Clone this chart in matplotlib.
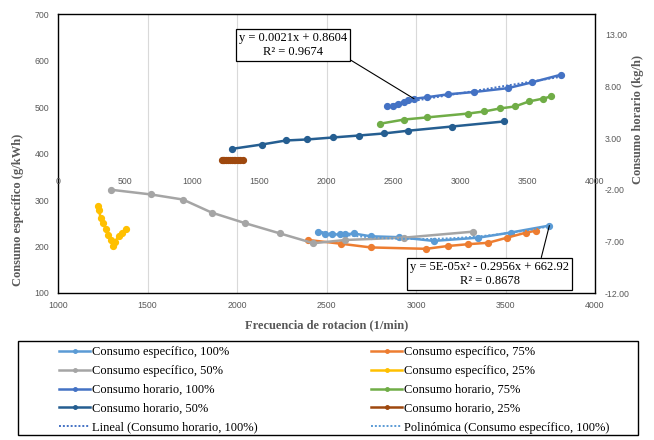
import numpy as np
import matplotlib
matplotlib.use("Agg")
import matplotlib.pyplot as plt
from matplotlib.patches import Rectangle
from matplotlib.ticker import MultipleLocator, FormatStrFormatter

plt.rcParams['axes.unicode_minus'] = False

# ---------------- data ----------------
rpm_100 = [2451, 2492, 2530, 2575, 2605, 2652, 2746, 2907, 3098, 3349, 3529, 3745]
esp_100 = [232, 227, 226, 226, 226, 228, 222, 220, 212, 219, 230, 245]
hor_100 = [6.05, 6.05, 6.27, 6.51, 6.63, 6.80, 6.94, 7.23, 7.45, 7.82, 8.38, 9.12]

rpm_75 = [2398, 2580, 2747, 3057, 3176, 3292, 3403, 3509, 3616, 3671]
esp_75 = [214, 206, 198, 195, 201, 205, 208, 219, 230, 234]
hor_75 = [4.38, 4.79, 4.99, 5.37, 5.57, 5.86, 6.05, 6.54, 6.82, 7.02]

rpm_50 = [1297, 1518, 1698, 1858, 2047, 2241, 2427, 2604, 2933, 3321]
esp_50 = [322, 312, 301, 273, 250, 228, 207, 214, 219, 232]
hor_50 = [1.95, 2.37, 2.76, 2.86, 3.05, 3.24, 3.44, 3.70, 4.11, 4.60]

rpm_25 = [1225, 1229, 1238, 1252, 1266, 1280, 1295, 1308, 1318, 1338, 1356, 1378]
esp_25 = [287, 278, 261, 251, 238, 225, 213, 202, 210, 222, 230, 238]
hor_25 = [0.84, 0.84, 0.85, 0.85, 0.85, 0.86, 0.86, 0.86, 0.87, 0.87, 0.88, 0.88]

lbl_esp = ["Consumo específico, 100%", "Consumo específico, 75%",
           "Consumo específico, 50%", "Consumo específico, 25%"]
lbl_hor = ["Consumo horario, 100%", "Consumo horario, 75%",
           "Consumo horario, 50%", "Consumo horario, 25%"]
lbl_lin = "Lineal (Consumo horario, 100%)"
lbl_poly = "Polinómica (Consumo específico, 100%)"
eq_lin = "y = 0.0021x + 0.8604\nR² = 0.9674"
eq_poly = "y = 5E-05x² - 0.2956x + 662.92\nR² = 0.8678"

xlabel = "Frecuencia de rotacion (1/min)"
ylabel_l = "Consumo específico (g/kWh)"
ylabel_r = "Consumo horario (kg/h)"

c_esp = ["#5B9BD5", "#ED7D31", "#A5A5A5", "#FFC000"]
c_hor = ["#4472C4", "#70AD47", "#255E91", "#9E480E"]

SERIF = "Liberation Serif"
SANS = "Liberation Sans"
GRAY = "#595959"

W, H = 654, 440
fig = plt.figure(figsize=(W / 100, H / 100), dpi=100)
rect = [58 / W, 1 - 293 / H, 537 / W, 279 / H]
ax = fig.add_axes(rect)
ax2 = fig.add_axes(rect, label="secondary")
ax2.patch.set_visible(False)

lw = 1.8
ms = 4.2
esp_lines = []
for r, v, c, l in zip([rpm_100, rpm_75, rpm_50, rpm_25], [esp_100, esp_75, esp_50, esp_25], c_esp, lbl_esp):
    ln, = ax.plot(r, v, color=c, lw=lw, marker='o', ms=ms, label=l, zorder=3)
    esp_lines.append(ln)
hor_lines = []
for r, v, c, l in zip([rpm_100, rpm_75, rpm_50, rpm_25], [hor_100, hor_75, hor_50, hor_25], c_hor, lbl_hor):
    ln, = ax2.plot(r, v, color=c, lw=lw, marker='o', ms=ms, label=l, zorder=3)
    hor_lines.append(ln)

# trendlines
xs = np.linspace(min(rpm_100), max(rpm_100), 100)
p1 = np.polyfit(rpm_100, hor_100, 1)
lin_ln, = ax2.plot(xs, np.polyval(p1, xs), color="#4472C4", lw=1.4, ls=(0, (1, 1)), zorder=4, label=lbl_lin)
p2 = np.polyfit(rpm_100, esp_100, 2)
poly_ln, = ax.plot(xs, np.polyval(p2, xs), color="#5B9BD5", lw=1.4, ls=(0, (1, 1)), zorder=4, label=lbl_poly)

# primary axes
ax.set_xlim(1000, 4000)
ax.set_ylim(100, 700)
ax.xaxis.set_major_locator(MultipleLocator(500))
ax.yaxis.set_major_locator(MultipleLocator(100))
ax.grid(axis='x', color="#D9D9D9", lw=0.8, zorder=0)
ax.set_axisbelow(True)
for s in ax.spines.values():
    s.set_color("black")
    s.set_linewidth(1.0)
ax.tick_params(axis='both', length=0, labelsize=6.3, labelcolor=GRAY)
ax.tick_params(axis='y', pad=6.5)
ax.tick_params(axis='x', pad=6)

# secondary axes
ax2.set_xlim(0, 4000)
ax2.set_ylim(-12, 15)
ax2.xaxis.set_major_locator(MultipleLocator(500))
ax2.yaxis.set_major_formatter(FormatStrFormatter('%.2f'))
ax2.set_yticks([-12, -7, -2, 3, 8, 13])
ax2.yaxis.tick_right()
ax2.xaxis.tick_bottom()
ax2.spines['bottom'].set_position(('data', 0))
for s in ax2.spines.values():
    s.set_visible(False)
ax2.tick_params(axis='both', length=0, labelsize=6.3, labelcolor=GRAY)
ax2.tick_params(axis='y', pad=7.2)
ax2.tick_params(axis='x', pad=6)

for a in (ax, ax2):
    for t in a.get_xticklabels() + a.get_yticklabels():
        t.set_fontfamily(SANS)

# axis titles
fig.text(18 / W, 1 - 210 / H, ylabel_l, rotation=90, ha='center', va='center',
         fontfamily=SERIF, fontweight='bold', fontsize=9, color=GRAY)
fig.text(638 / W, 1 - 120 / H, ylabel_r, rotation=90, ha='center', va='center',
         fontfamily=SERIF, fontweight='bold', fontsize=9, color=GRAY)
fig.text(327 / W, 1 - 325 / H, xlabel, ha='center', va='center',
         fontfamily=SERIF, fontweight='bold', fontsize=9, color=GRAY)

# equation boxes
bbox = dict(boxstyle='square,pad=0.25', fc='white', ec='black', lw=0.9)
ax2.annotate(eq_lin, xy=(rpm_100[5], hor_100[5]), xycoords='data',
             xytext=(293, H - 45), textcoords='figure pixels',
             ha='center', va='center', fontfamily=SERIF, fontsize=9, bbox=bbox,
             arrowprops=dict(arrowstyle='-', color='black', lw=0.8, relpos=(1, 0),
                             shrinkA=0, shrinkB=0), zorder=6)
ax.annotate(eq_poly, xy=(rpm_100[-1], esp_100[-1]), xycoords='data',
            xytext=(489.5, H - 274), textcoords='figure pixels',
            ha='center', va='center', fontfamily=SERIF, fontsize=9, bbox=bbox,
            arrowprops=dict(arrowstyle='-', color='black', lw=0.8, relpos=(0.82, 1),
                            shrinkA=0, shrinkB=0), zorder=6)

# legend
fig.add_artist(Rectangle((17.5 / W, 1 - 435 / H), 620 / W, 94 / H, transform=fig.transFigure,
                         fill=False, ec='black', lw=1.0))
col1 = [esp_lines[0], esp_lines[2], hor_lines[0], hor_lines[2], lin_ln]
col2 = [esp_lines[1], esp_lines[3], hor_lines[1], hor_lines[3], poly_ln]
for handles, x0 in ((col1, 59), (col2, 371)):
    fig.legend(handles=handles, labels=[h.get_label() for h in handles],
               loc='upper left', bbox_to_anchor=(x0 / W, 1 - 346.5 / H),
               frameon=False, borderpad=0, borderaxespad=0, handlelength=2.5,
               handletextpad=0.15, labelspacing=0.54, markerscale=0.6,
               prop=dict(family=SERIF, size=9))

fig.savefig("out.png", dpi=100)
